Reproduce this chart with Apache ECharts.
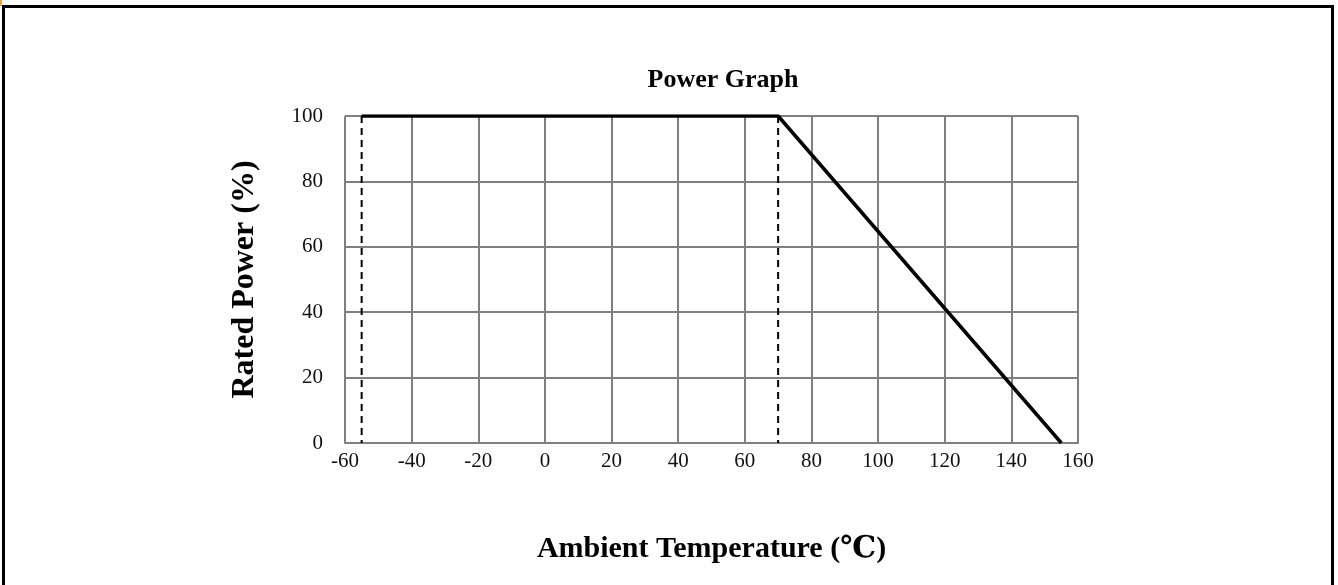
<!DOCTYPE html>
<html>
<head>
<meta charset="utf-8">
<script src="https://cdn.jsdelivr.net/npm/echarts@6/dist/echarts.min.js"></script>
<style>
  html, body { margin: 0; padding: 0; background: #fff; }
  #chart { width: 1338px; height: 585px; }
</style>
</head>
<body>
<div id="chart"></div>
<script>
// derating curve: temperature (C) vs rated power (%)
var curveTemp = [-55, 70, 155];
var curvePower = [100, 100, 0];
// dashed guides
var guideLow = [[-55, 100], [-55, 0]];
var guideKnee = [[70, 100], [70, 0]];

var xTicks = { min: -60, max: 160, step: 20 };
var yTicks = { min: 0, max: 100, step: 20 };

var serif = '"Liberation Serif", "DejaVu Serif", serif';

var chart = echarts.init(document.getElementById('chart'));

chart.setOption({
  animation: false,
  backgroundColor: '#fff',
  title: {
    text: 'Power Graph',
    left: 718, top: 62, textAlign: 'center',
    textStyle: { fontFamily: serif, fontSize: 26, fontWeight: 'bold', color: '#000' }
  },
  grid: { left: 345, right: 260, top: 116, bottom: 142 },
  xAxis: {
    type: 'value', min: xTicks.min, max: xTicks.max, interval: xTicks.step,
    name: 'Ambient Temperature (℃)', nameLocation: 'middle', nameGap: 91,
    nameTextStyle: { fontFamily: serif, fontSize: 30, fontWeight: 'bold', color: '#000' },
    axisLine: { show: true, lineStyle: { color: '#808080', width: 2 } },
    axisTick: { show: false },
    axisLabel: { margin: 8, fontFamily: serif, fontSize: 21, color: '#111' },
    splitLine: { show: true, lineStyle: { color: '#808080', width: 2 } }
  },
  yAxis: {
    type: 'value', min: yTicks.min, max: yTicks.max, interval: yTicks.step,
    name: 'Rated Power (%)', nameLocation: 'middle', nameGap: 84, nameRotate: 90,
    nameTextStyle: { fontFamily: serif, fontSize: 32, fontWeight: 'bold', color: '#000' },
    axisLine: { show: true, lineStyle: { color: '#808080', width: 2 } },
    axisTick: { show: false },
    axisLabel: { margin: 22, fontFamily: serif, fontSize: 21, color: '#111' },
    splitLine: { show: true, lineStyle: { color: '#808080', width: 2 } }
  },
  series: [
    {
      type: 'line', symbol: 'none', silent: true,
      data: guideLow,
      lineStyle: { color: '#000', width: 2, type: [7, 5] }
    },
    {
      type: 'line', symbol: 'none', silent: true,
      data: guideKnee,
      lineStyle: { color: '#000', width: 2, type: [7, 5] }
    },
    {
      type: 'line', symbol: 'none', silent: true,
      data: curveTemp.map(function (t, i) { return [t, curvePower[i]]; }),
      lineStyle: { color: '#000', width: 3.5 }
    }
  ],
  graphic: [
    {
      type: 'rect', silent: true,
      shape: { x: 3.5, y: 6.5, width: 1329, height: 590 },
      style: { fill: 'none', stroke: '#000', lineWidth: 3 }
    },
    {
      type: 'rect', silent: true,
      shape: { x: 0, y: 0, width: 2, height: 6 },
      style: { fill: '#f7a04a' }
    }
  ]
});
</script>
</body>
</html>
